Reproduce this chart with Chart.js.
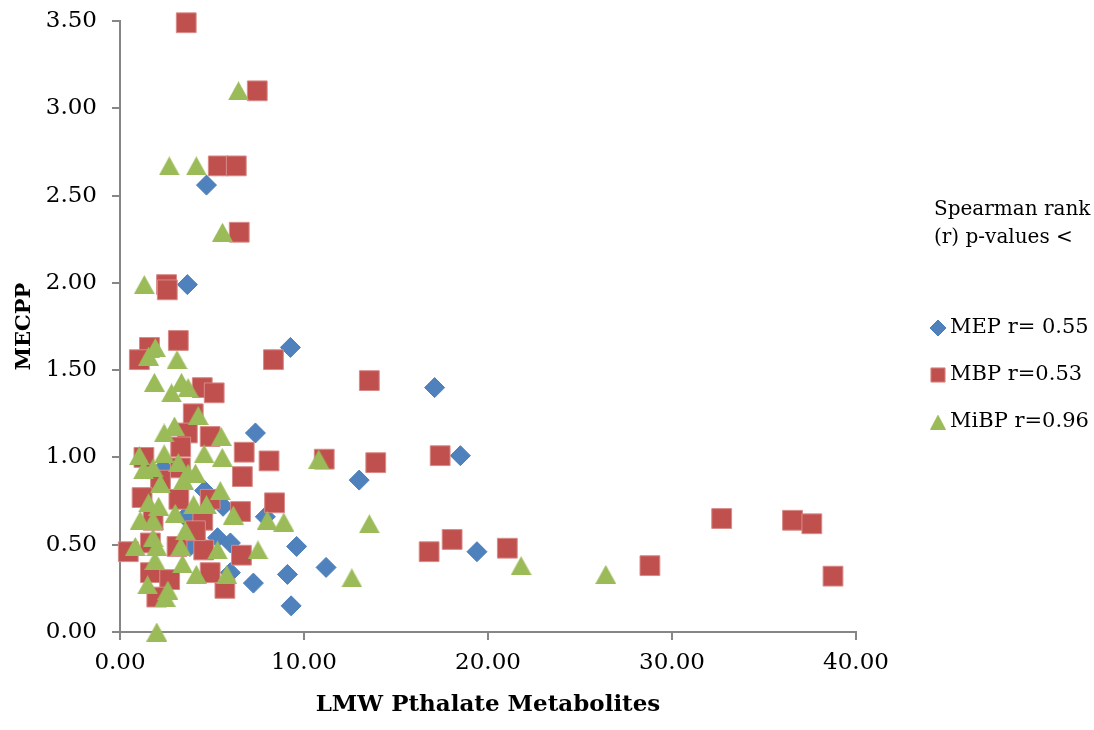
<!DOCTYPE html>
<html>
<head>
<meta charset="utf-8">
<script src="https://cdn.jsdelivr.net/npm/chart.js@4.4.1/dist/chart.umd.min.js"></script>
<style>
  html, body { margin: 0; padding: 0; background: #fff; }
</style>
</head>
<body>
<canvas id="chart" width="1094" height="730"></canvas>
<script>
// values
var mepX = [4.70, 3.66, 9.26, 17.1, 7.36, 18.5, 13.0, 4.60, 2.36, 5.60, 7.90, 3.55,
            5.30, 6.00, 9.60, 19.4, 11.2, 9.10, 7.25, 9.30, 3.80, 6.00];
var mepY = [2.56, 1.99, 1.63, 1.40, 1.14, 1.01, 0.87, 0.81, 0.94, 0.72, 0.66, 0.66,
            0.54, 0.51, 0.49, 0.46, 0.37, 0.33, 0.28, 0.15, 0.49, 0.34];

var mbpX = [3.60, 7.46, 5.34, 6.32, 6.48, 2.53, 2.57, 3.17, 1.60, 1.05, 8.34, 4.47,
            5.12, 3.98, 4.90, 3.66, 6.75, 8.10, 6.65, 1.30, 3.30, 3.28, 2.20, 1.20,
            3.20, 8.40, 6.55, 4.90, 4.50, 1.80, 0.45, 1.65, 3.10, 4.55, 6.60, 1.65,
            2.70, 2.00, 5.70, 4.90, 4.10, 13.55, 11.1, 13.9, 17.4, 16.8, 18.05, 21.05,
            28.8, 32.7, 36.55, 37.6, 38.75];
var mbpY = [3.49, 3.10, 2.67, 2.67, 2.29, 1.99, 1.96, 1.67, 1.63, 1.56, 1.56, 1.40,
            1.37, 1.25, 1.12, 1.14, 1.03, 0.98, 0.89, 1.00, 1.06, 0.94, 0.87, 0.77,
            0.76, 0.74, 0.69, 0.76, 0.64, 0.64, 0.46, 0.51, 0.49, 0.47, 0.44, 0.34,
            0.30, 0.20, 0.25, 0.34, 0.58, 1.44, 0.99, 0.97, 1.01, 0.46, 0.53, 0.48,
            0.38, 0.65, 0.64, 0.62, 0.32];

var mibpX = [6.44, 2.68, 4.15, 5.57, 1.32, 1.92, 1.55, 3.10, 1.87, 3.34, 2.80, 3.70,
             4.25, 2.96, 2.40, 5.50, 1.05, 2.40, 3.17, 4.57, 5.56, 1.28, 1.80, 3.70,
             2.20, 3.45, 4.10, 5.45, 1.55, 2.10, 3.00, 4.00, 4.70, 1.10, 1.80, 3.55,
             6.16, 8.00, 8.90, 0.83, 1.80, 2.00, 3.30, 5.30, 7.50, 1.90, 3.40, 1.50,
             4.15, 5.80, 2.60, 2.45, 2.00, 10.8, 13.55, 12.6, 21.8, 26.4];
var mibpY = [3.10, 2.67, 2.67, 2.29, 1.99, 1.63, 1.58, 1.56, 1.43, 1.43, 1.37, 1.40,
             1.24, 1.18, 1.14, 1.12, 1.01, 1.02, 0.97, 1.02, 1.00, 0.93, 0.94, 0.91,
             0.85, 0.87, 0.91, 0.81, 0.74, 0.72, 0.68, 0.73, 0.73, 0.64, 0.64, 0.58,
             0.67, 0.64, 0.63, 0.49, 0.54, 0.49, 0.49, 0.47, 0.47, 0.41, 0.39, 0.27,
             0.33, 0.33, 0.24, 0.20, 0.00, 0.99, 0.62, 0.31, 0.38, 0.33];

var seriesNames = ['MEP r= 0.55', 'MBP r=0.53', 'MiBP r=0.96'];
var noteLines = ['Spearman rank', '(r) p-values <'];

function toPoints(xs, ys) {
    return xs.map(function (x, i) { return { x: x, y: ys[i] }; });
}

// triangle marker centred on its box, like Excel draws it
function triangleMark(w, h, color) {
    var c = document.createElement('canvas');
    c.width = w;
    c.height = h;
    var t = c.getContext('2d');
    t.fillStyle = color;
    t.beginPath();
    t.moveTo(w / 2, 0);
    t.lineTo(w, h);
    t.lineTo(0, h);
    t.closePath();
    t.fill();
    return c;
}

var serif = '"DejaVu Serif", "Liberation Serif", serif';
var axisGrey = '#868686';
var green = '#9BBB59';
var triBig = triangleMark(21, 19, green);
var triSmall = triangleMark(16, 15, green);

// legend on the right, drawn next to the plot
var sideLegend = {
    id: 'sideLegend',
    afterDraw: function (chart) {
        var ctx = chart.ctx;
        ctx.save();
        ctx.fillStyle = '#000';
        ctx.textAlign = 'left';
        ctx.textBaseline = 'middle';
        ctx.font = '20px ' + serif;
        ctx.fillText(noteLines[0], 934, 210);
        ctx.fillText(noteLines[1], 934, 238);

        var sizes = [8, 10, 10];
        chart.data.datasets.forEach(function (ds, i) {
            var y = 328 + i * 47;
            ctx.fillStyle = ds.backgroundColor;
            ctx.strokeStyle = ds.borderColor;
            ctx.lineWidth = 1;
            Chart.helpers.drawPoint(ctx, {
                pointStyle: i == 2 ? triSmall : ds.pointStyle,
                radius: sizes[i], borderWidth: 1, rotation: 0
            }, 938, y);
            ctx.fillStyle = '#000';
            ctx.font = '21px ' + serif;
            ctx.fillText(seriesNames[i], 950, y);
        });
        ctx.restore();
    }
};

var ctx = document.getElementById('chart').getContext('2d');
var myChart = new Chart(ctx, {
    type: 'scatter',
    data: {
        datasets: [
            {
                label: seriesNames[0],
                data: toPoints(mepX, mepY),
                pointStyle: 'rectRot',
                pointRadius: 10,
                backgroundColor: '#4F81BD',
                borderColor: '#4A7EBB',
                borderWidth: 1,
                clip: false,
                order: 3
            },
            {
                label: seriesNames[1],
                data: toPoints(mbpX, mbpY),
                pointStyle: 'rect',
                pointRadius: 14,
                backgroundColor: '#C0504D',
                borderColor: '#D88A88',
                borderWidth: 1,
                clip: false,
                order: 2
            },
            {
                label: seriesNames[2],
                data: toPoints(mibpX, mibpY),
                pointStyle: triBig,
                pointRadius: 12,
                backgroundColor: green,
                borderColor: green,
                borderWidth: 1,
                clip: false,
                order: 1
            }
        ]
    },
    options: {
        responsive: false,
        animation: false,
        events: [],
        layout: {
            padding: { left: 0, top: 21, right: 238, bottom: 0 }
        },
        scales: {
            x: {
                type: 'linear',
                min: 0,
                max: 40,
                afterFit: function (scale) {
                    scale.height = 98;
                    scale.paddingLeft = 0;
                    scale.paddingRight = 0;
                },
                ticks: {
                    stepSize: 10,
                    color: '#000',
                    padding: 9,
                    font: { family: serif, size: 23 },
                    callback: function (v) { return v.toFixed(2); }
                },
                grid: {
                    drawOnChartArea: false,
                    tickLength: 8,
                    color: axisGrey,
                    lineWidth: 2
                },
                border: { color: axisGrey, width: 2 },
                title: {
                    display: true,
                    text: 'LMW Pthalate Metabolites',
                    color: '#000',
                    font: { family: serif, size: 23, weight: 'bold' },
                    padding: { top: 0, bottom: 11 }
                }
            },
            y: {
                min: 0,
                max: 3.5,
                afterFit: function (scale) {
                    scale.width = 120;
                    scale.paddingTop = 0;
                    scale.paddingBottom = 0;
                },
                ticks: {
                    stepSize: 0.5,
                    color: '#000',
                    padding: 15,
                    font: { family: serif, size: 23 },
                    callback: function (v) { return v.toFixed(2); }
                },
                grid: {
                    drawOnChartArea: false,
                    tickLength: 8,
                    color: axisGrey,
                    lineWidth: 2
                },
                border: { color: axisGrey, width: 2 },
                title: {
                    display: true,
                    text: 'MECPP',
                    color: '#000',
                    font: { family: serif, size: 21, weight: 'bold' },
                    padding: { top: 12, bottom: 0 }
                }
            }
        },
        plugins: {
            legend: { display: false },
            tooltip: { enabled: false }
        }
    },
    plugins: [sideLegend]
});
</script>
</body>
</html>
